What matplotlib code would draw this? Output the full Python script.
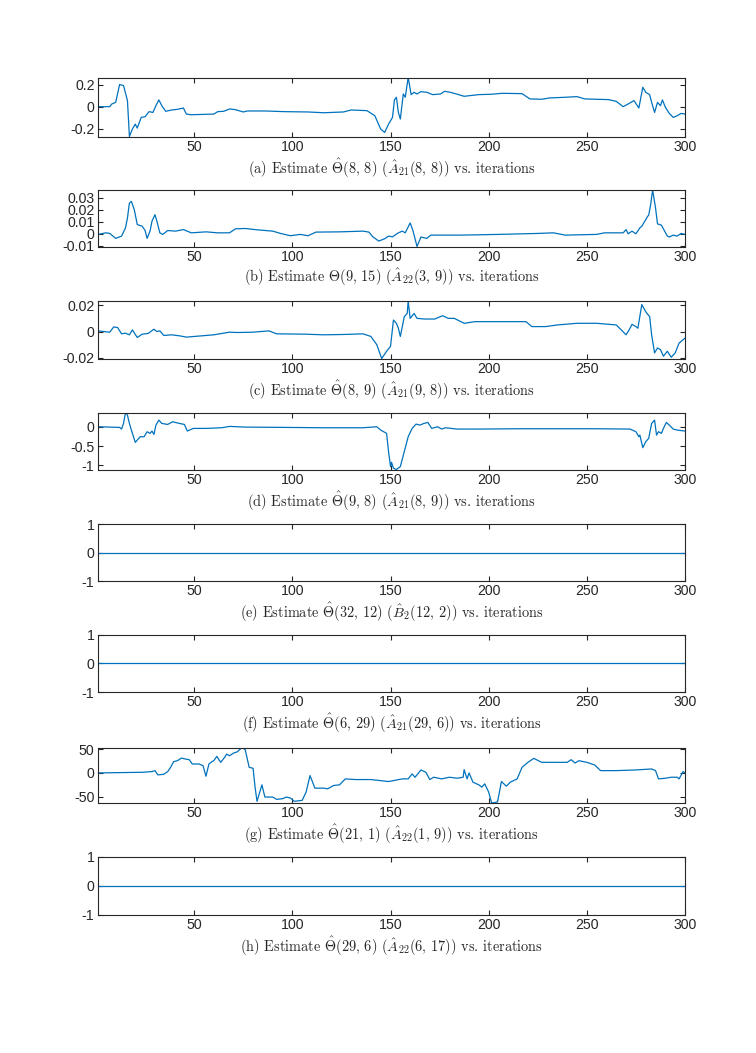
import numpy as np
import matplotlib
matplotlib.use("Agg")
import matplotlib.pyplot as plt

plt.rcParams["mathtext.fontset"] = "cm"
plt.rcParams["axes.unicode_minus"] = False
plt.rcParams["font.family"] = ["Liberation Sans", "DejaVu Sans"]

# values (iteration, estimate)
xa = [1, 7, 8, 10, 12, 14, 16, 17, 18.5, 20, 21, 23, 25, 27, 29, 30.5, 32, 33.5, 35.5, 38.5,
      41.5, 44.5, 46, 48.5, 60, 62, 65, 68, 71, 75, 77, 86, 96, 108, 116, 126, 130, 138, 142, 145,
      147, 149, 151, 152, 153, 154, 155, 156.5, 157.5, 159, 160.5, 162, 163.5, 165.5, 168.5, 171.5,
      175.5, 177.5, 180.5, 183.5, 187.5, 190.5, 195, 201, 207, 217, 221, 227, 231, 239, 245, 249,
      261, 265, 268.5, 271, 274, 276.5, 278.5, 280, 282, 283, 284.5, 286, 287.5, 288.5, 290, 292,
      294, 296, 298, 300]
ya = [0, 0, 0.024, 0.039, 0.2, 0.191, 0.055, -0.27, -0.203, -0.158, -0.194, -0.097, -0.091,
      -0.045, -0.052, 0.009, 0.061, 0.009, -0.042, -0.03, -0.024, -0.012, -0.067, -0.073, -0.067,
      -0.045, -0.042, -0.021, -0.027, -0.048, -0.039, -0.039, -0.045, -0.048, -0.055, -0.048, -0.03,
      -0.036, -0.082, -0.203, -0.233, -0.158, -0.097, 0.061, 0.085, -0.052, -0.112, 0.115, 0.085,
      0.264, 0.109, 0.13, 0.115, 0.136, 0.13, 0.109, 0.115, 0.139, 0.13, 0.115, 0.094, 0.1, 0.109,
      0.112, 0.121, 0.118, 0.07, 0.067, 0.079, 0.085, 0.091, 0.07, 0.064, 0.048, 0, 0.024, 0.055,
      -0.012, 0.176, 0.13, 0.109, 0.039, -0.052, 0.039, 0.009, 0.061, -0.006, -0.061, -0.097,
      -0.082, -0.061, -0.067]

xb = [1, 5, 7, 10, 13, 15, 16, 17, 18, 19.5, 21, 23.5, 25, 26, 27.5, 28.5, 30, 31, 32.5, 34,
      36.5, 40.5, 44.5, 48.5, 56, 62, 68, 71, 76, 82, 90, 94, 99, 104, 108, 112, 124, 136, 139,
      141, 144, 147, 149, 151, 154, 156, 157.5, 160, 161.5, 163.5, 165.5, 168.5, 170.5, 185.5,
      205, 225, 233, 239, 255, 259, 268.5, 270, 271, 273, 275, 277, 278, 279, 281, 281.5, 282.5,
      283.5, 285, 286, 288, 291, 292, 294, 296, 298, 300]
yb = [-0.0005, 0.0008, 0.0003, -0.0038, -0.0019, 0.0049, 0.0131, 0.0254, 0.0267, 0.0199,
      0.0076, 0.0063, 0.0027, -0.0038, 0.0022, 0.0104, 0.0158, 0.0104, 0.0008, -0.0005, 0.0027,
      0.0022, 0.0035, 0.0008, 0.0016, 0.0008, 0.0008, 0.0041, 0.0044, 0.0033, 0.0022, 0.0003,
      -0.0016, -0.0005, -0.0016, 0.0014, 0.0016, 0.0022, 0.0014, -0.0025, -0.006, -0.0041,
      -0.0019, -0.0025, 0.0008, 0.0022, 0.0008, 0.009, 0.0022, -0.0105, -0.0027, -0.0038,
      -0.0011, -0.0011, -0.0005, 0.0003, 0.0008, -0.0011, -0.0005, 0.0008, 0.0008, 0.0035, 0,
      0.0022, 0, 0.0049, 0.0063, 0.009, 0.0145, 0.0153, 0.024, 0.0362, 0.0213, 0.0082, 0.0071,
      -0.0019, -0.0027, -0.0011, -0.0019, 0.0003, -0.0005]

xc = [1, 7, 9, 11, 13, 15, 17, 18.5, 21, 23.5, 26.5, 29.5, 31, 32.5, 34.5, 38.5, 42.5, 46, 54,
      60, 64, 68, 72, 80, 88, 92, 106, 116, 126, 136, 140, 143, 145.5, 148, 150, 151.5, 153, 154,
      155, 157, 158.5, 159, 160, 162, 163.5, 167.5, 172.5, 176.5, 179.5, 182.5, 187.5, 193, 205,
      215, 219, 222, 229, 235, 245, 255, 265, 268, 270, 272, 273, 275, 276, 278, 280, 282, 283,
      284.5, 286, 287.5, 289, 291, 293, 295, 297, 300]
yc = [0.0005, -0.0005, 0.0035, 0.003, -0.00175, -0.00125, -0.0025, 0.00125, -0.0045, -0.002,
      -0.0015, 0.00175, 0, 0.0005, -0.003, -0.0025, -0.00325, -0.00425, -0.00325, -0.0025,
      -0.0015, -0.0005, -0.00075, -0.0005, 0.0005, -0.00175, -0.002, -0.0025, -0.00225, -0.00175,
      -0.00375, -0.01, -0.0205, -0.015, -0.01125, 0.00875, 0.00625, 0.0025, -0.00375, 0.01125,
      0.01375, 0.0232, 0.01, 0.01375, 0.01, 0.0095, 0.0095, 0.012, 0.01, 0.01, 0.00625, 0.0075,
      0.0075, 0.0075, 0.0075, 0.00375, 0.00375, 0.005, 0.00625, 0.00625, 0.005, 0.0005, -0.0025,
      0.0025, 0.0055, 0.00375, 0.0025, 0.0205, 0.015, 0.01125, -0.0025, -0.01625, -0.0125,
      -0.01375, -0.01875, -0.015, -0.0195, -0.01625, -0.00875, -0.005]

xd = [1, 12, 13, 14, 15, 16, 17, 18, 20, 22.5, 24.5, 26, 27.5, 28.5, 29.5, 30.5, 32, 33.5, 36.5,
      39, 42.5, 45, 46.5, 49.5, 56, 64, 68, 76, 96, 116, 136, 143, 145, 148, 149, 150, 150.5,
      151.5, 153, 155, 157, 159, 161, 163, 165, 167, 169, 171, 174, 176, 178, 181, 184, 195, 215,
      235, 255, 272, 275, 276.5, 277, 278.5, 280, 281.5, 283, 284.5, 285.5, 286.5, 288, 289,
      290.5, 292, 294, 296, 300]
yd = [0, -0.017, -0.06, 0.086, 0.37, 0.30, 0.086, -0.086, -0.405, -0.259, -0.259, -0.129,
      -0.172, -0.112, -0.198, 0.043, 0.172, 0.086, 0.06, 0.129, 0.086, 0.06, -0.112, -0.043,
      -0.043, -0.026, 0.009, -0.009, -0.017, -0.026, -0.026, 0, -0.086, -0.172, -0.647, -1.034,
      -0.922, -1.078, -1.11, -1.034, -0.647, -0.259, -0.043, 0.069, 0.043, 0.086, 0.112, -0.043,
      0, -0.06, -0.026, -0.043, -0.06, -0.06, -0.052, -0.052, -0.052, -0.06, -0.129, -0.259,
      -0.216, -0.543, -0.388, -0.302, 0.086, 0.172, -0.216, -0.129, -0.172, -0.043, 0.112, 0.043,
      -0.06, -0.086, -0.112]

xg = [1, 23.5, 28.5, 30, 31.5, 34.5, 36.5, 38, 39.5, 41.5, 43.5, 45.5, 47.5, 49, 52.5, 54.5, 56,
      57.5, 59, 60, 61.5, 63.5, 65.5, 66.5, 68, 70, 72, 73, 74.5, 76, 78, 80, 81, 82, 84.5, 86, 90,
      92, 95, 97, 99, 101, 105, 107, 109, 111.5, 116, 118, 121, 124, 127, 132, 140, 149, 156, 159,
      161, 162.5, 165.5, 168, 170, 172, 176, 180, 184, 187, 187.5, 189, 190, 192, 195, 196.5, 198,
      200, 201.5, 204.5, 206.5, 209, 211, 214.5, 217, 220, 223, 227, 235, 240, 242, 244, 246, 250,
      254, 257, 265, 275, 283, 285, 286.5, 290, 293, 296, 297, 299, 300]
yg = [0, 1.4, 2.8, 4.9, -4.2, -2.8, 2.8, 11.9, 23.8, 25.9, 31.5, 29.4, 28, 18.9, 18.9, 15.4, -7,
      18.9, 23.8, 25.9, 35, 22.4, 32.9, 39.8, 36.3, 41.9, 44.7, 48.9, 53.8, 48.9, 11.9, 9.8, -30,
      -60.1, -25.2, -51, -51, -55.9, -54.5, -51, -53.1, -60.1, -58, -40.5, -5.6, -32.2, -32.2,
      -33.6, -26.6, -25.2, -12.6, -14, -14, -18.2, -12.6, -12.6, -2.1, -9.1, 6.3, 1.4, -14, -9.1,
      -12.6, -9.1, -11.2, -9.1, 7, -12.6, 0, -19.6, -25.2, -30, -23.1, -40.5, -63.6, -61.5, -18.2,
      -28, -19.6, -12.6, 11.9, 22.4, 30.8, 22.4, 22.4, 22.4, 28, 21, 25.9, 22.4, 16.8, 4.9, 4.9,
      6.3, 8.4, 4.9, -12.6, -11.2, -9.1, -9.1, -12.6, 2.8, 0]

xflat = [1, 300]
yflat = [0, 0]

series = [(xa, ya), (xb, yb), (xc, yc), (xd, yd),
          (xflat, yflat), (xflat, yflat), (xg, yg), (xflat, yflat)]
yticks = [[-0.2, 0, 0.2], [-0.01, 0, 0.01, 0.02, 0.03], [-0.02, 0, 0.02], [-1, -0.5, 0],
          [-1, 0, 1], [-1, 0, 1], [-50, 0, 50], [-1, 0, 1]]
yticklabels = [["-0.2", "0", "0.2"], ["-0.01", "0", "0.01", "0.02", "0.03"],
               ["-0.02", "0", "0.02"], ["-1", "-0.5", "0"], ["-1", "0", "1"], ["-1", "0", "1"],
               ["-50", "0", "50"], ["-1", "0", "1"]]
captions = [
    r"(a) Estimate $\hat{\Theta}(8,\,8)$ $(\hat{A}_{21}(8,\,8))$ vs. iterations",
    r"(b) Estimate $\Theta(9,\,15)$ $(\hat{A}_{22}(3,\,9))$ vs. iterations",
    r"(c) Estimate $\hat{\Theta}(8,\,9)$ $(\hat{A}_{21}(9,\,8))$ vs. iterations",
    r"(d) Estimate $\hat{\Theta}(9,\,8)$ $(\hat{A}_{21}(8,\,9))$ vs. iterations",
    r"(e) Estimate $\hat{\Theta}(32,\,12)$ $(\hat{B}_{2}(12,\,2))$ vs. iterations",
    r"(f) Estimate $\hat{\Theta}(6,\,29)$ $(\hat{A}_{21}(29,\,6))$ vs. iterations",
    r"(g) Estimate $\hat{\Theta}(21,\,1)$ $(\hat{A}_{22}(1,\,9))$ vs. iterations",
    r"(h) Estimate $\hat{\Theta}(29,\,6)$ $(\hat{A}_{22}(6,\,17))$ vs. iterations",
]

W, H = 756, 1053
tops = [77.5, 190, 301, 412.5, 524, 634.5, 747.5, 856.5]
bots = [136.5, 246.5, 358.5, 469.5, 581, 692, 803, 915]
left, right = 98, 685
blue = "#0072BD"
dark = "#262626"

fig = plt.figure(figsize=(W / 100, H / 100), dpi=100)
for i in range(8):
    ax = fig.add_axes([left / W, 1 - bots[i] / H, (right - left) / W, (bots[i] - tops[i]) / H])
    x, y = series[i]
    ax.plot(x, y, color=blue, lw=0.9)
    ax.set_xlim(1, 300)
    if i in (4, 5, 7):
        ax.set_ylim(-1, 1)
    else:
        ax.set_ylim(min(y), max(y))
    ax.set_xticks([50, 100, 150, 200, 250, 300])
    ax.set_yticks(yticks[i])
    ax.set_yticklabels(yticklabels[i])
    ax.tick_params(direction="in", top=True, right=True, length=3.5, width=0.8,
                   labelsize=10.2, colors=dark, pad=2.5)
    for s in ax.spines.values():
        s.set_color(dark)
        s.set_linewidth(0.8)
    ax.set_xlabel(captions[i], fontsize=10.3, family="cmr10", color=dark, labelpad=2)

fig.savefig("out.png", dpi=100)
